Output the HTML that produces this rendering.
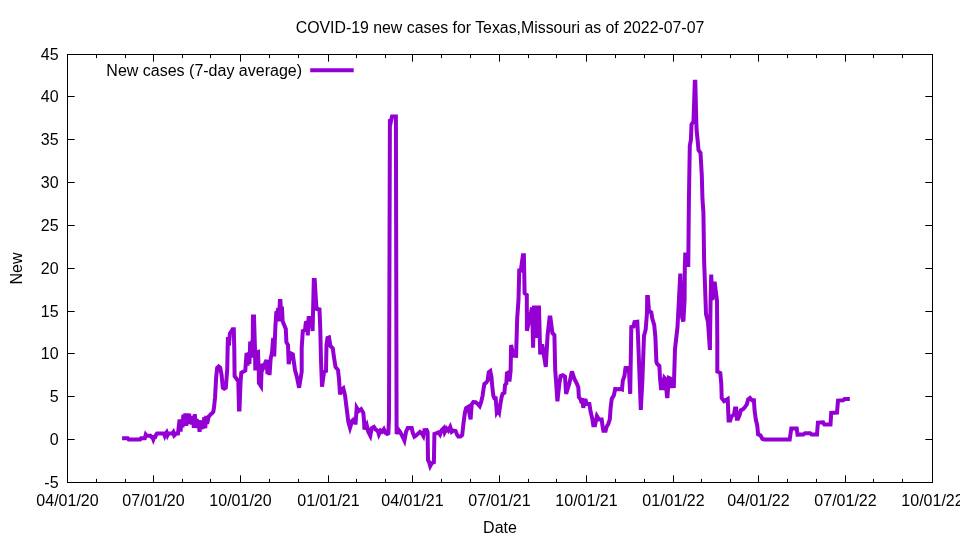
<!DOCTYPE html>
<html><head><meta charset="utf-8"><title>COVID-19 new cases</title>
<style>html,body{margin:0;padding:0;background:#fff;overflow:hidden;}svg{display:block;}text{font-family:"Liberation Sans",sans-serif;font-size:16px;fill:#000;}</style></head><body>
<svg width="960" height="540" viewBox="0 0 960 540">
<rect width="960" height="540" fill="#fff"/>
<text x="500" y="33" text-anchor="middle" textLength="408.6" lengthAdjust="spacingAndGlyphs">COVID-19 new cases for Texas,Missouri as of 2022-07-07</text>
<g stroke="#000" stroke-width="1" fill="none">
<rect x="67.5" y="54.5" width="865.0" height="428.0" shape-rendering="crispEdges"/>
<path d="M67.5 439.5h7.2M932.5 439.5h-7.2M67.5 396.5h7.2M932.5 396.5h-7.2M67.5 353.5h7.2M932.5 353.5h-7.2M67.5 311.5h7.2M932.5 311.5h-7.2M67.5 268.5h7.2M932.5 268.5h-7.2M67.5 225.5h7.2M932.5 225.5h-7.2M67.5 182.5h7.2M932.5 182.5h-7.2M67.5 139.5h7.2M932.5 139.5h-7.2M67.5 96.5h7.2M932.5 96.5h-7.2M96.5 482.5v-3.6M96.5 54.5v3.6M125.5 482.5v-3.6M125.5 54.5v3.6M153.5 482.5v-7.2M153.5 54.5v7.2M182.5 482.5v-3.6M182.5 54.5v3.6M210.5 482.5v-3.6M210.5 54.5v3.6M240.5 482.5v-7.2M240.5 54.5v7.2M269.5 482.5v-3.6M269.5 54.5v3.6M298.5 482.5v-3.6M298.5 54.5v3.6M328.5 482.5v-7.2M328.5 54.5v7.2M356.5 482.5v-3.6M356.5 54.5v3.6M385.5 482.5v-3.6M385.5 54.5v3.6M412.5 482.5v-7.2M412.5 54.5v7.2M441.5 482.5v-3.6M441.5 54.5v3.6M470.5 482.5v-3.6M470.5 54.5v3.6M499.5 482.5v-7.2M499.5 54.5v7.2M528.5 482.5v-3.6M528.5 54.5v3.6M556.5 482.5v-3.6M556.5 54.5v3.6M586.5 482.5v-7.2M586.5 54.5v7.2M615.5 482.5v-3.6M615.5 54.5v3.6M644.5 482.5v-3.6M644.5 54.5v3.6M673.5 482.5v-7.2M673.5 54.5v7.2M701.5 482.5v-3.6M701.5 54.5v3.6M730.5 482.5v-3.6M730.5 54.5v3.6M758.5 482.5v-7.2M758.5 54.5v7.2M787.5 482.5v-3.6M787.5 54.5v3.6M816.5 482.5v-3.6M816.5 54.5v3.6M845.5 482.5v-7.2M845.5 54.5v7.2M873.5 482.5v-3.6M873.5 54.5v3.6M902.5 482.5v-3.6M902.5 54.5v3.6"/>
</g>
<text x="58.6" y="488.3" text-anchor="end">-5</text>
<text x="58.6" y="445.3" text-anchor="end">0</text>
<text x="58.6" y="402.3" text-anchor="end">5</text>
<text x="58.6" y="359.3" text-anchor="end">10</text>
<text x="58.6" y="317.3" text-anchor="end">15</text>
<text x="58.6" y="274.3" text-anchor="end">20</text>
<text x="58.6" y="231.3" text-anchor="end">25</text>
<text x="58.6" y="188.3" text-anchor="end">30</text>
<text x="58.6" y="145.3" text-anchor="end">35</text>
<text x="58.6" y="102.3" text-anchor="end">40</text>
<text x="58.6" y="60.3" text-anchor="end">45</text>
<text x="67.5" y="506" text-anchor="middle">04/01/20</text>
<text x="153.5" y="506" text-anchor="middle">07/01/20</text>
<text x="240.5" y="506" text-anchor="middle">10/01/20</text>
<text x="328.5" y="506" text-anchor="middle">01/01/21</text>
<text x="412.5" y="506" text-anchor="middle">04/01/21</text>
<text x="499.5" y="506" text-anchor="middle">07/01/21</text>
<text x="586.5" y="506" text-anchor="middle">10/01/21</text>
<text x="673.5" y="506" text-anchor="middle">01/01/22</text>
<text x="758.5" y="506" text-anchor="middle">04/01/22</text>
<text x="845.5" y="506" text-anchor="middle">07/01/22</text>
<text x="932.5" y="506" text-anchor="middle">10/01/22</text>
<text x="500" y="533" text-anchor="middle">Date</text>
<text transform="translate(21.5,268.5) rotate(-90)" text-anchor="middle">New</text>
<text x="302" y="76" text-anchor="end">New cases (7-day average)</text>
<path d="M310.2 70.3H353.7" stroke="#9400d3" stroke-width="4" fill="none"/>
<path d="M122.07 438.28L123.02 438.28L123.96 438.28L124.91 438.28L125.86 438.28L126.81 438.28L127.75 438.28L128.7 439.5L129.65 439.5L130.6 439.5L131.54 439.5L132.49 439.5L133.44 439.5L134.39 439.5L135.33 439.5L136.28 439.5L137.23 439.5L138.18 439.5L139.12 439.5L140.07 439.5L141.02 438.28L141.97 438.28L142.91 438.28L143.86 438.28L144.81 438.28L145.75 434.61L146.7 435.83L147.65 435.83L148.6 435.83L149.54 435.83L150.49 435.83L151.44 437.05L152.39 437.05L153.33 439.5L154.28 437.05L155.23 437.05L156.18 434.61L157.12 433.39L158.07 433.39L159.02 433.39L159.97 433.39L160.91 433.39L161.86 433.39L162.81 433.39L163.76 433.39L164.7 435.83L165.65 433.39L166.6 432.16L167.55 435.22L168.49 433.39L169.44 433.39L170.39 433.39L171.33 433.39L172.28 433.39L173.23 432.16L174.18 435.46L175.12 434.61L176.07 433.39L177.02 433.39L177.97 433.39L179.6 419.51L180.55 431.7L181.5 420.66L182.45 427.24L183.4 414.73L184.35 423.44L185.3 413.41L186.25 425.73L187.2 413.41L188.15 424.06L189.1 413.67L190.05 423.18L191 416.27L191.95 424.6L192.9 415.99L193.85 427.86L194.8 414.08L195.75 425.9L196.7 419.07L197.65 428.13L198.6 420.21L199.55 431.9L200.5 422.91L201.45 429.34L202.4 420.41L203.35 428.65L204.3 417.16L205.25 428.06L206.2 415.96L207.15 423.97L208.67 416.48L209.63 415.74L210.52 414.41L211.85 413.52L213.33 411.67L214.22 406.11L214.81 399.44L215.07 397.22L216.11 377.96L217.15 367.89L218.63 366.41L220.26 367.89L221.59 375L222.78 387.59L224.26 388.63L225.8 387.8L227.2 370L227.9 337L228.9 345.5L229.9 333.5L230.7 332.5L232.6 329.2L233.8 329.2L234.3 350L234.6 376L238.3 381.3L239 409.6L239.5 409.6L240.6 381L241.3 372.7L245.3 370.5L246.6 353L247.6 365.5L248.6 352.5L249.4 364L250.2 341.6L251.2 357.5L252.2 340.5L252.6 350L253 316.5L254 316.5L255 349L255.3 370.5L256.3 352.5L258 352L258.8 372L258.9 383L261 386.3L261.8 364L263.5 367.3L265 363.6L266.5 360L267.5 374L268.5 361L269.5 375L270.7 358.2L272 353L273.2 338L274.2 356.5L275.4 326L276.3 312.5L277.8 311.5L278.2 307.9L278.9 321.3L279.6 307.4L279.9 300.9L280.4 300.9L280.8 307.9L282 308.2L282.6 321L285.8 328.9L286.4 342.2L288 345L288.7 364.2L290.6 353.3L292.8 354.4L295 370L296.7 376.1L299.1 387.8L301.7 371.7L301.7 347.8L302.8 331L305 330L305.8 323L307 322.5L307.8 335.4L308.6 318L311.5 317.5L312.6 331L313.8 280L314.7 280L316.3 306L317 309L319.5 309.5L320.3 330L321 360L322 386.7L324 372L326 371L326.5 345L327.5 338L329 337.5L330.5 346L332.8 348.5L333.8 356L335.5 367L338 370L339 379L340 394.4L341.9 389.4L343.3 388.3L345 395L346.1 403.9L347.2 412.8L348.3 421.7L350 427.8L352.2 420.6L353.3 419.7L355 422.8L355.6 422.8L356.7 407.8L358.6 411.1L361.1 409.2L363.3 412.8L364.1 421.7L364.4 429.4L366.7 425L368.3 431.7L370.3 435.6L371.7 428.3L373.9 427L375.6 429.4L377.8 430.8L378.9 434.4L380.6 430.6L382.2 431.7L383.9 429.2L385.6 432.8L387.2 433.9L388.4 433.3L389 418.3L389.9 119.2L390.9 121.6L392 116.6L395.9 116.6L396.6 434L398.3 429.4L400 431.7L401.7 435L404.4 440.6L406.1 431.7L407.8 428L411.7 428L412.8 432.8L414.4 436.7L416.7 435L420 431.9L422.2 433.9L423.3 435.8L424.4 430.2L426.7 430L427.6 432.2L428 460L428.9 461.7L430.2 466.1L431.7 463.3L433.9 462.2L434.4 433.9L436.1 433.3L438.3 432.4L440 434.7L441.7 430.2L443.9 428L444.7 432.2L446.7 428.7L448.3 430.6L450.2 426.9L451.7 431.7L453.3 430.6L455.6 431.1L457.2 435L458.3 436.4L460.6 436.4L462.2 435L463.1 426.7L463.9 420L465 412.2L466.1 408L468.1 406.9L470.6 419.4L471.7 404.4L473.3 402L475.6 402.2L477.8 403.9L479.7 406.1L481.1 402.2L482.6 395.6L483.7 387.8L484.4 383.9L486.1 382.8L487.6 380.6L488.7 372.4L490.3 371.1L491.4 376.7L492.2 385.6L493.3 395.6L494.4 398.3L495.7 398.3L496.8 412.2L498.1 410L499.2 412.2L500.3 404.4L501.7 396.7L502.6 393.9L504.4 392.8L505 385L506.3 383.6L506.9 373.3L508.6 372.4L509.4 381.4L510.6 371.1L511.1 345L513.3 355.6L516.1 355.9L517.2 318.3L518.5 300L519.3 268.5L520.6 272L522.9 255.3L523.9 255.3L524.6 293L526.8 295L526.9 330.8L532.1 307.5L533.1 347.8L534 307.5L535 307.5L536.5 337.8L537.6 307.5L539 307.5L540.2 354.4L542.2 344.4L545.8 367L547.6 335L549.6 317.6L550.4 317.6L552.4 333L554.4 335L555.2 370L556.2 383.3L557.4 401.3L559.4 383.3L560.6 376.1L562.8 375.3L565 376.7L566.1 393.9L569.4 383.3L571.9 371.4L574.4 378.9L576.7 383.3L578.3 387.2L578.9 397.2L580.6 399.4L581.7 403.3L582.4 398.3L583.3 407.8L585.3 398.9L586.7 404.1L589.4 404.1L590.6 411.7L592.2 418.3L593.3 425.2L595 425.2L596.9 416.1L598.9 419.4L601.7 419.4L602.6 426.5L603.4 430.8L605.6 430.8L606.5 427L608.3 423.9L609.8 419.4L610.6 408.3L611.7 398.9L613.9 395.2L615.2 388.9L617.8 389.2L620.6 388.9L622 389.4L622.8 380.6L624.4 376.3L625.5 368L628.8 367.5L630.2 393.9L631.3 327L633.5 326.5L634.5 322L637.3 321.7L638 336L640.8 410L642.4 380L644 335.9L645.7 329.5L647 312.6L647.2 297L647.9 297L649 311L651.3 312.5L652.2 318.4L654.2 324.8L655.4 337.2L656.4 362L657.3 364L659.4 366L660 378L661.2 390L662.2 378L663.2 390L664.5 378L665.4 379L667 396.3L667.5 396.3L668.8 378L670 378.5L671.5 388L672.5 378L673.8 388L674.6 362L675 349L677.5 327L680.3 273.5L682.2 318L683.4 321.5L684.6 300L684.8 268L685.3 252.5L686.5 264L688.3 264.5L688.9 200L689.8 145.6L690.9 140L691.5 124.5L693.5 121.2L694.8 81.7L695.3 81.7L696.3 121.9L696.6 130L697.9 143L698.5 150L700.5 153L701.8 175.4L702.5 200L703.4 212L704.1 260L706 314L708 322L709.9 349.9L710.6 300L711.2 274.5L712.3 300L713.5 283.5L714.8 283.5L717 301L717.3 340L717.3 371.5L720.3 373L721.3 384L721.7 398L724.1 401.2L727.7 399L728.6 420.6L730.2 420.6L731.5 416.5L734 414.5L735 408.4L736.2 408.4L736.8 418.7L738 418.7L739.6 415.1L740.9 410.3L742.9 409.4L744.8 407.3L746.8 404.5L748.1 399.5L750 398L752 400.3L753.9 400.3L754.6 410.9L755.9 420L757.2 425.2L758.1 434.3L760.4 435.3L762.3 438.8L764.3 439.5L789.7 439.5L791.3 428.5L796.7 428.5L797.5 434.6L803.4 434.5L805 433.2L810.2 433.2L811.5 434.5L817 434.5L817.9 422.6L823.1 422.4L824.4 424.6L830.5 424.6L831.2 412.9L837 412.6L838 400.6L843.2 400.3L844.5 399L849.9 399" stroke="#9400d3" stroke-width="4" fill="none" stroke-linejoin="miter" stroke-miterlimit="3.8" stroke-linecap="butt"/>
</svg>
</body></html>
